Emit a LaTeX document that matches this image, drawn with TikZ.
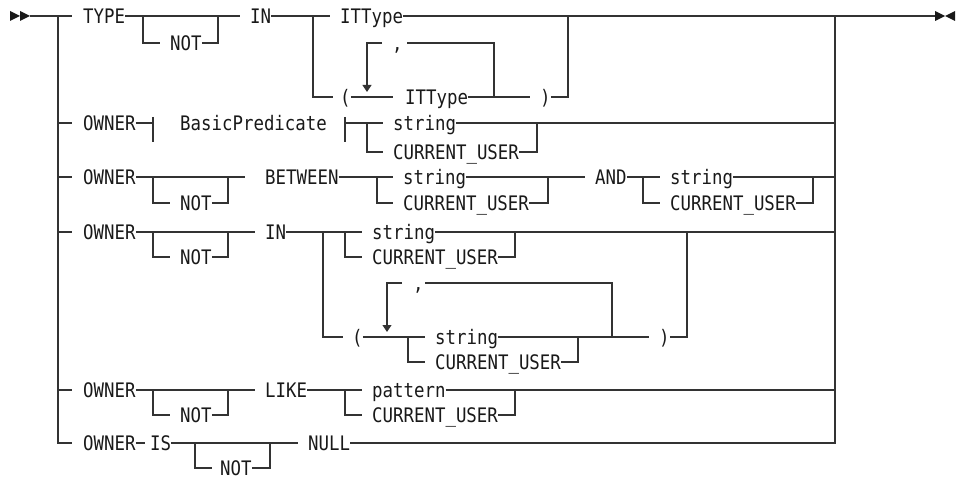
\documentclass[tikz,border=0pt]{standalone}
\usepackage{fontspec}
\newfontfamily\rrfont[FakeStretch=0.87]{DejaVu Sans Mono}
\usetikzlibrary{arrows.meta}
\begin{document}
\begin{tikzpicture}[x=1pt,y=-1pt,
  lbl/.style={inner sep=0pt, anchor=west, text height=14.6pt, text depth=0pt, text=black!90,
              font=\rrfont\fontsize{20}{22}\selectfont},
  rail/.style={draw=black!80, line width=1.2pt},
  loopdown/.style={rail, -{Triangle[length=7pt,width=9pt]}},
  endmark/.style={fill=black!90}]
\useasboundingbox (0,0) rectangle (964,481);

% start / end marks
\fill[endmark] (10,11) -- (20,16) -- (10,21) -- cycle;
\fill[endmark] (20,11) -- (30,16) -- (20,21) -- cycle;
\fill[endmark] (935,11) -- (945,16) -- (935,21) -- cycle;
\fill[endmark] (955,11) -- (945,16) -- (955,21) -- cycle;

% trunks
\draw[rail] (30,16) -- (72,16);
\draw[rail] (58,16) |- (72,443);
\foreach \yy in {123,177,232,390} \draw[rail] (58,\yy) -- (72,\yy);

% ---------- Row 1: TYPE [NOT] IN ...
\node[lbl] (type) at (83,16) {TYPE};
\node[lbl] (not1) at (170,43) {NOT};
\node[lbl] (in1) at (250,16) {IN};
\node[lbl] (itt1) at (340,16) {ITType};
\node[lbl] (lp1) at (340,97) {(};
\node[lbl] (cm1) at (392,43) {,};
\node[lbl] (itt2) at (405,97) {ITType};
\node[lbl] (rp1) at (540,97) {)};
\draw[rail] (type.east) -- (240,16);
\draw[rail] (143,16) |- (160,43);
\draw[rail] (not1.east) -| (218,16);
\draw[rail] (in1.east) -- (330,16);
\draw[rail] (itt1.east) -- (935,16);
\draw[rail] (313,16) |- (333,97);
\draw[rail] (lp1.east) -- (393,97);
\draw[rail] (itt2.east) -- (530,97);
\draw[rail] (rp1.east) -| (568,16);
\draw[loopdown] (382,43) -| (367,92);
\draw[rail] (407,43) -| (494,97);

% ---------- Row 2: OWNER |BasicPredicate| string/CURRENT_USER
\node[lbl] (ow2) at (83,123) {OWNER};
\node[lbl] (bp) at (180,123) {BasicPredicate};
\node[lbl] (s2) at (393,123) {string};
\node[lbl] (cu2) at (393,152) {CURRENT\_USER};
\draw[rail] (ow2.east) -- (153,123);
\draw[rail] (153,117) -- (153,142);
\draw[rail] (345,117) -- (345,142);
\draw[rail] (345,123) -- (383,123);
\draw[rail] (s2.east) -- (835,123);
\draw[rail] (367,123) |- (383,152);
\draw[rail] (cu2.east) -| (537,123);

% ---------- Row 3: OWNER [NOT] BETWEEN ... AND ...
\node[lbl] (ow3) at (83,177) {OWNER};
\node[lbl] (not3) at (180,203) {NOT};
\node[lbl] (bt) at (265,177) {BETWEEN};
\node[lbl] (s3) at (403,177) {string};
\node[lbl] (cu3) at (403,203) {CURRENT\_USER};
\node[lbl] (and) at (595,177) {AND};
\node[lbl] (s3b) at (670,177) {string};
\node[lbl] (cu3b) at (670,203) {CURRENT\_USER};
\draw[rail] (ow3.east) -- (245,177);
\draw[rail] (153,177) |- (170,203);
\draw[rail] (not3.east) -| (228,177);
\draw[rail] (bt.east) -- (393,177);
\draw[rail] (377,177) |- (393,203);
\draw[rail] (cu3.east) -| (548,177);
\draw[rail] (s3.east) -- (585,177);
\draw[rail] (and.east) -- (660,177);
\draw[rail] (643,177) |- (660,203);
\draw[rail] (s3b.east) -- (835,177);
\draw[rail] (cu3b.east) -| (813,177);

% ---------- Row 4: OWNER [NOT] IN ...
\node[lbl] (ow4) at (83,232) {OWNER};
\node[lbl] (not4) at (180,257) {NOT};
\node[lbl] (in4) at (265,232) {IN};
\node[lbl] (s4) at (372,232) {string};
\node[lbl] (cu4) at (372,257) {CURRENT\_USER};
\node[lbl] (lp4) at (352,337) {(};
\node[lbl] (cm4) at (413,283) {,};
\node[lbl] (s4b) at (435,337) {string};
\node[lbl] (cu4b) at (435,362) {CURRENT\_USER};
\node[lbl] (rp4) at (659,337) {)};
\draw[rail] (ow4.east) -- (255,232);
\draw[rail] (153,232) |- (170,257);
\draw[rail] (not4.east) -| (228,232);
\draw[rail] (in4.east) -- (362,232);
\draw[rail] (s4.east) -- (835,232);
\draw[rail] (345,232) |- (362,257);
\draw[rail] (cu4.east) -| (515,232);
\draw[rail] (323,232) |- (343,337);
\draw[rail] (lp4.east) -- (425,337);
\draw[rail] (408,337) |- (425,362);
\draw[rail] (s4b.east) -- (649,337);
\draw[rail] (cu4b.east) -| (578,337);
\draw[rail] (rp4.east) -| (687,232);
\draw[loopdown] (402,283) -| (387,332);
\draw[rail] (425,283) -| (612,337);

% ---------- Row 5: OWNER [NOT] LIKE pattern/CURRENT_USER
\node[lbl] (ow5) at (83,390) {OWNER};
\node[lbl] (not5) at (180,415) {NOT};
\node[lbl] (like) at (265,390) {LIKE};
\node[lbl] (pat) at (372,390) {pattern};
\node[lbl] (cu5) at (372,415) {CURRENT\_USER};
\draw[rail] (ow5.east) -- (255,390);
\draw[rail] (153,390) |- (170,415);
\draw[rail] (not5.east) -| (228,390);
\draw[rail] (like.east) -- (362,390);
\draw[rail] (pat.east) -- (835,390);
\draw[rail] (345,390) |- (362,415);
\draw[rail] (cu5.east) -| (515,390);

% ---------- Row 6: OWNER IS [NOT] NULL
\node[lbl] (ow6) at (83,443) {OWNER};
\node[lbl] (is) at (150,443) {IS};
\node[lbl] (not6) at (220,468) {NOT};
\node[lbl] (null) at (308,443) {NULL};
\draw[rail] (ow6.east) -- (145,443);
\draw[rail] (is.east) -- (298,443);
\draw[rail] (195,443) |- (212,468);
\draw[rail] (not6.east) -| (270,443);
\draw[rail] (null.east) -| (835,16);
\end{tikzpicture}
\end{document}
